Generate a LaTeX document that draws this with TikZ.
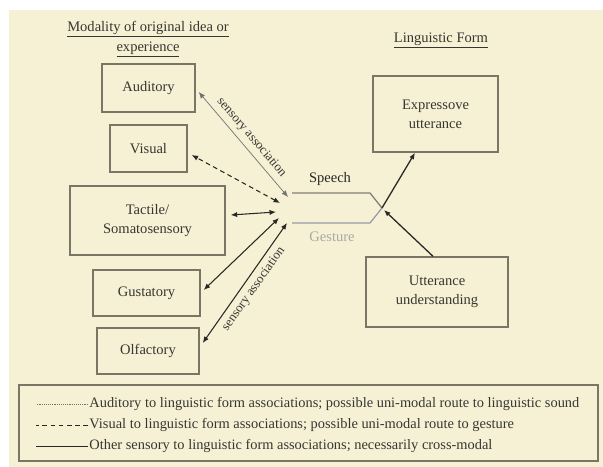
\documentclass[tikz,border=0pt]{standalone}
\usepackage{fontspec}
\setmainfont{Liberation Serif}
\usetikzlibrary{arrows.meta}
\definecolor{bgcream}{RGB}{246,240,213}
\definecolor{boxgray}{RGB}{122,117,100}
\definecolor{inkdark}{RGB}{40,40,36}
\definecolor{textgray}{RGB}{55,54,48}
\definecolor{speechgray}{RGB}{128,126,120}
\definecolor{gesturegray}{RGB}{155,155,168}
\definecolor{gesturetext}{RGB}{170,170,165}

\begin{document}
\begin{tikzpicture}[x=0.03cm,y=-0.03cm,
    >={Latex[length=5.5pt,width=4.5pt]},
    assoc/.style={<->,draw=inkdark,line width=0.9pt},
    audline/.style={draw=black!55,line width=0.6pt},
    visline/.style={draw=inkdark,line width=0.9pt,dash pattern=on 4pt off 3pt},
    headtext/.style={font=\fontsize{12.4}{17}\selectfont,text=textgray,align=center},
    legtext/.style={font=\fontsize{12.3}{14}\selectfont,text=textgray,anchor=west,inner sep=1pt},
    slopetext/.style={font=\fontsize{11}{13}\selectfont,text=textgray,sloped,inner sep=4pt}]

      \fill[white] (0,0) rectangle (603,467);
      \fill[bgcream] (9,10) rectangle (603,467);
      \useasboundingbox (0,0) rectangle (603,467);

      \node[headtext] (modtitle) at (148,39) {\underline{Modality of original idea or}\\\underline{experience}};
      \node[headtext] (lingtitle) at (441,40) {\underline{Linguistic Form}};

      \begin{scope}[every node/.style={draw=boxgray,line width=1.2pt,align=center,
          font=\fontsize{12.4}{16}\selectfont,text=textgray}]
        \node[minimum width=2.79cm,minimum height=1.44cm] (aud)  at (148.5,88)  {Auditory};
        \node[minimum width=2.31cm,minimum height=1.41cm] (vis)  at (148.5,148.5) {Visual};
        \node[minimum width=4.65cm,minimum height=2.07cm] (tac)  at (147.5,220.5) {Tactile/\\Somatosensory};
        \node[minimum width=3.21cm,minimum height=1.38cm] (gus)  at (146.5,293) {Gustatory};
        \node[minimum width=3.06cm,minimum height=1.38cm] (olf)  at (148,351)   {Olfactory};
        \node[minimum width=3.75cm,minimum height=2.28cm] (expr) at (435.5,114) {Expressove\\utterance};
        \node[minimum width=4.26cm,minimum height=2.10cm] (und)  at (437,292)   {Utterance\\understanding};
      \end{scope}

      \coordinate (hub) at (283,210);
      \coordinate (tip) at (382,208);

      \draw[speechgray,line width=1.1pt] (292,193) -- (370,193) -- (tip);
      \draw[gesturegray,line width=1.1pt] (292,223) -- (370,223) -- (tip);
      \node[font=\fontsize{12.4}{14}\selectfont,text=inkdark] (speech) at (330,179) {Speech};
      \node[font=\fontsize{12.4}{14}\selectfont,text=gesturetext] (gesture) at (332,237) {Gesture};

      \draw[audline,<->] ([shift={(5,-13)}]hub) -- node[slopetext,above] {sensory association} ([shift={(3,4)}]aud.east);
      \draw[visline,<->] ([shift={(-3,-7)}]hub) -- ([shift={(4,6.5)}]vis.east);
      \draw[assoc] ([shift={(-7,2)}]hub) -- ([shift={(5,-5.5)}]tac.east);
      \draw[assoc] ([shift={(-4,8)}]hub) -- ([shift={(3,-3)}]gus.east);
      \draw[assoc] ([shift={(4,13)}]hub) -- node[slopetext,below] {sensory association} ([shift={(3,-8)}]olf.east);

      \draw[->,draw=inkdark,line width=1.1pt] (tip) -- ([shift={(-20.5,0)}]expr.south);
      \draw[->,draw=inkdark,line width=1.1pt] ([shift={(-4,0)}]und.north) -- ([shift={(2,2)}]tip);

      \draw[boxgray,line width=1.2pt] (19,385) rectangle (598,461);
      \node[legtext] (leg1) at (88,404) {Auditory to linguistic form associations; possible uni-modal route to linguistic sound};
      \node[legtext] (leg2) at (88,425) {Visual to linguistic form associations; possible uni-modal route to gesture};
      \node[legtext] (leg3) at (88,446) {Other sensory to linguistic form associations; necessarily cross-modal};
      \draw[audline,densely dotted] (leg1.west) -- +(-52,0);
      \draw[visline,line width=0.7pt] (leg2.west) -- +(-52,0);
      \draw[draw=inkdark,line width=0.7pt] (leg3.west) -- +(-52,0);

    \end{tikzpicture}
\end{document}
